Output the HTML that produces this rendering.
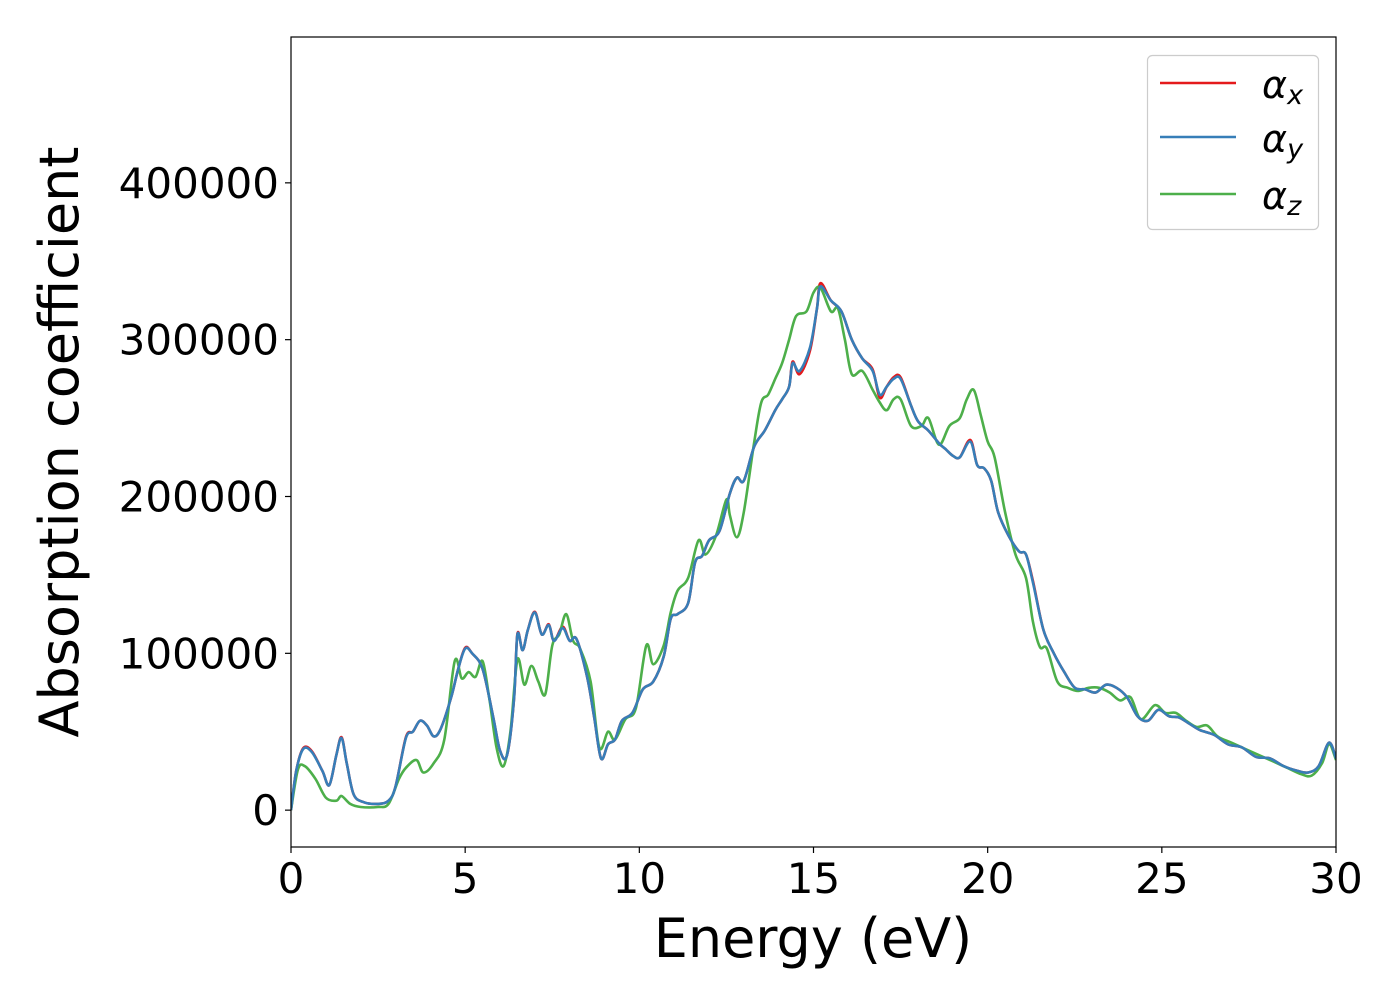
<!DOCTYPE html>
<html><head><meta charset="utf-8"><style>
html,body{margin:0;padding:0;background:#fff}
svg{display:block;font-family:"DejaVu Sans","Liberation Sans",sans-serif}
</style></head><body>
<svg id="chart" width="1400" height="1000" viewBox="0 0 1400 1000" xmlns="http://www.w3.org/2000/svg">
<rect width="1400" height="1000" fill="#fff"/>
<g id="series"></g>
<g id="axes"></g>
<text x="813" y="957" font-size="54" text-anchor="middle">Energy (eV)</text>
<text transform="translate(78,442) rotate(-90)" font-size="54" text-anchor="middle">Absorption coefficient</text>
<g>
<rect x="1147.5" y="55.5" width="171" height="174" rx="5" fill="#fff" stroke="#ccc" stroke-width="1.2"/>
<line x1="1160" y1="83" x2="1236" y2="83" stroke="#e41a1c" stroke-width="2.6"/>
<text x="1262" y="98" font-size="38" font-style="italic">α<tspan font-size="27" dy="6">x</tspan></text>
<line x1="1160" y1="137" x2="1236" y2="137" stroke="#377eb8" stroke-width="2.6"/>
<text x="1262" y="152" font-size="38" font-style="italic">α<tspan font-size="27" dy="6">y</tspan></text>
<line x1="1160" y1="194" x2="1236" y2="194" stroke="#4daf4a" stroke-width="2.6"/>
<text x="1262" y="209" font-size="38" font-style="italic">α<tspan font-size="27" dy="6">z</tspan></text>
</g>
</svg>
<script>
const energyXY=[0,0.15,0.35,0.6,0.9,1.1,1.3,1.45,1.6,1.8,2.1,2.5,2.8,3.0,3.3,3.5,3.7,3.9,4.1,4.3,4.6,4.8,5.0,5.2,5.5,5.8,6.0,6.2,6.4,6.5,6.65,6.8,7.0,7.2,7.4,7.55,7.8,8.0,8.2,8.5,8.7,8.9,9.1,9.3,9.5,9.8,10.1,10.4,10.7,10.9,11.1,11.4,11.6,11.8,12.0,12.3,12.6,12.8,13.0,13.3,13.6,13.9,14.1,14.3,14.4,14.6,14.9,15.1,15.2,15.5,15.8,16.1,16.4,16.7,16.9,17.1,17.3,17.5,17.8,18.0,18.3,18.6,18.8,19.0,19.2,19.5,19.7,19.9,20.1,20.3,20.6,20.9,21.1,21.3,21.6,21.9,22.2,22.5,22.8,23.1,23.4,23.7,24.0,24.3,24.6,24.9,25.2,25.5,25.8,26.1,26.5,26.9,27.3,27.7,28.1,28.5,28.9,29.2,29.5,29.8,30];
const alphaY=[0,25000,39000,37000,25000,16000,35000,46000,30000,10000,5000,4000,6000,15000,46000,50000,57000,54000,47000,52000,72000,90000,103000,100000,90000,60000,38000,35000,70000,112000,102000,115000,126000,112000,118000,108000,116000,108000,109000,85000,60000,33000,42000,45000,57000,62000,77000,82000,98000,122000,125000,132000,158000,162000,172000,178000,202000,212000,210000,232000,242000,255000,262000,270000,285000,280000,295000,320000,334000,325000,318000,300000,288000,280000,265000,270000,275000,275000,258000,248000,242000,234000,230000,226000,225000,235000,220000,218000,210000,190000,175000,165000,163000,145000,115000,100000,88000,78000,77000,75000,80000,78000,72000,60000,57000,64000,60000,59000,55000,51000,48000,42000,40000,34000,33000,28000,25000,24000,28000,43000,33000];
const alphaX=[0,25000,39500,37500,25000,16000,35000,46500,30000,10000,5000,4000,6000,15000,46500,50000,57000,54000,47000,52000,72000,90000,103500,100000,90000,60000,38000,35000,70000,112500,102000,115000,126500,112000,118500,108000,117000,108000,109000,85000,60000,33000,42000,45000,57000,62000,77000,82000,98000,122000,125000,132000,158000,162000,172000,178000,202000,212000,210000,232000,242000,255000,262000,270000,286000,278000,293000,320000,336000,325000,318000,300000,288000,281000,263000,270000,276000,276000,258000,248000,242000,234000,230000,226000,225000,236000,220000,218000,210000,190000,175000,165000,163000,146000,115000,100000,88000,78000,77000,75000,80000,78000,72000,60000,57000,64000,60000,59000,55000,51000,48000,42000,40000,34000,33000,28000,25000,24000,28000,43000,33000];
const energyZ=[0,0.2,0.4,0.7,1.0,1.3,1.45,1.7,2.0,2.5,2.8,3.1,3.3,3.6,3.8,4.1,4.4,4.7,4.9,5.1,5.3,5.5,5.7,5.9,6.1,6.3,6.5,6.7,6.9,7.1,7.3,7.5,7.7,7.9,8.1,8.3,8.6,8.85,9.1,9.3,9.6,9.9,10.2,10.4,10.7,10.9,11.1,11.4,11.7,11.9,12.2,12.5,12.6,12.8,13.0,13.3,13.5,13.7,13.9,14.1,14.3,14.5,14.8,15.0,15.2,15.5,15.7,15.9,16.1,16.4,16.7,16.9,17.1,17.3,17.5,17.8,18.1,18.3,18.6,18.9,19.2,19.4,19.6,19.8,20.0,20.2,20.5,20.8,21.1,21.3,21.5,21.7,22.0,22.3,22.6,22.9,23.2,23.5,23.8,24.1,24.4,24.8,25.1,25.4,25.7,26.0,26.3,26.6,27.0,27.4,27.8,28.2,28.6,29.0,29.3,29.6,29.8,30];
const alphaZ=[0,26000,28000,20000,8000,6000,9000,4000,2000,2000,4000,20000,27000,32000,24000,30000,45000,95000,84000,88000,85000,95000,70000,40000,28000,50000,96000,80000,92000,82000,74000,105000,112000,125000,108000,103000,82000,40000,50000,45000,58000,65000,105000,93000,105000,126000,140000,148000,172000,163000,175000,198000,188000,174000,190000,235000,260000,265000,275000,285000,300000,315000,318000,330000,333000,318000,320000,300000,278000,280000,268000,260000,255000,262000,262000,245000,245000,250000,233000,245000,250000,262000,268000,252000,235000,225000,190000,163000,148000,120000,104000,103000,82000,78000,76000,78000,78000,75000,70000,72000,58000,67000,62000,62000,57000,53000,54000,47000,43000,39000,35000,31000,27000,23000,22000,30000,42000,32000];
const xTicks=[0,5,10,15,20,25,30];
const yTicks=[0,100000,200000,300000,400000];

const X0=291,X1=1336,Y0=37,Y1=847;
const xMin=0,xMax=30,yMin=-23500,yMax=493000;
const sx=v=>X0+(v-xMin)/(xMax-xMin)*(X1-X0);
const sy=v=>Y1-(v-yMin)/(yMax-yMin)*(Y1-Y0);
const NS="http://www.w3.org/2000/svg";

function smoothPath(xs,ys){
  const p=xs.map((x,i)=>[sx(x),sy(ys[i])]);
  let d="M"+p[0][0].toFixed(1)+","+p[0][1].toFixed(1);
  for(let i=0;i<p.length-1;i++){
    const a=p[Math.max(0,i-1)],b=p[i],c=p[i+1],e=p[Math.min(p.length-1,i+2)];
    const c1=[b[0]+(c[0]-a[0])/6,b[1]+(c[1]-a[1])/6];
    const c2=[c[0]-(e[0]-b[0])/6,c[1]-(e[1]-b[1])/6];
    d+=" C"+c1[0].toFixed(1)+","+c1[1].toFixed(1)+" "+c2[0].toFixed(1)+","+c2[1].toFixed(1)+" "+c[0].toFixed(1)+","+c[1].toFixed(1);
  }
  return d;
}
const series=document.getElementById("series");
const defs=document.createElementNS(NS,"clipPath");defs.setAttribute("id","clip");
const cr=document.createElementNS(NS,"rect");cr.setAttribute("x",X0);cr.setAttribute("y",Y0);cr.setAttribute("width",X1-X0);cr.setAttribute("height",Y1-Y0);
defs.appendChild(cr);document.getElementById("chart").appendChild(defs);
series.setAttribute("clip-path","url(#clip)");
[["line-alpha-x",energyXY,alphaX,"#e41a1c"],["line-alpha-z",energyZ,alphaZ,"#4daf4a"],["line-alpha-y",energyXY,alphaY,"#377eb8"]].forEach(s=>{
  const pa=document.createElementNS(NS,"path");
  
  
  pa.setAttribute("d",smoothPath(s[1],s[2]));
  pa.setAttribute("fill","none");pa.setAttribute("stroke",s[3]);pa.setAttribute("stroke-width","2.6");pa.setAttribute("stroke-linejoin","round");
  series.appendChild(pa);
});
// z over x but x/y order: draw y above z? In reference blue appears on top of red; green mixed. keep.
const axes=document.getElementById("axes");
const frame=document.createElementNS(NS,"rect");


frame.setAttribute("x",X0);frame.setAttribute("y",Y0);frame.setAttribute("width",X1-X0);frame.setAttribute("height",Y1-Y0);
frame.setAttribute("fill","none");frame.setAttribute("stroke","#000");frame.setAttribute("stroke-width","1.2");
axes.appendChild(frame);
xTicks.forEach(t=>{
  const l=document.createElementNS(NS,"line");
  
  
  l.setAttribute("x1",sx(t));l.setAttribute("x2",sx(t));l.setAttribute("y1",Y1);l.setAttribute("y2",Y1+6);l.setAttribute("stroke","#000");l.setAttribute("stroke-width","1.2");
  axes.appendChild(l);
  const tx=document.createElementNS(NS,"text");
  
  
  tx.setAttribute("x",sx(t));tx.setAttribute("y",893);tx.setAttribute("font-size","42");tx.setAttribute("text-anchor","middle");
  tx.textContent=t;axes.appendChild(tx);
});
yTicks.forEach(t=>{
  const l=document.createElementNS(NS,"line");
  
  
  l.setAttribute("x1",X0-6);l.setAttribute("x2",X0);l.setAttribute("y1",sy(t));l.setAttribute("y2",sy(t));l.setAttribute("stroke","#000");l.setAttribute("stroke-width","1.2");
  axes.appendChild(l);
  const tx=document.createElementNS(NS,"text");
  
  
  tx.setAttribute("x",X0-12);tx.setAttribute("y",sy(t)+15);tx.setAttribute("font-size","42");tx.setAttribute("text-anchor","end");
  tx.textContent=t;axes.appendChild(tx);
});
</script>
</body></html>
